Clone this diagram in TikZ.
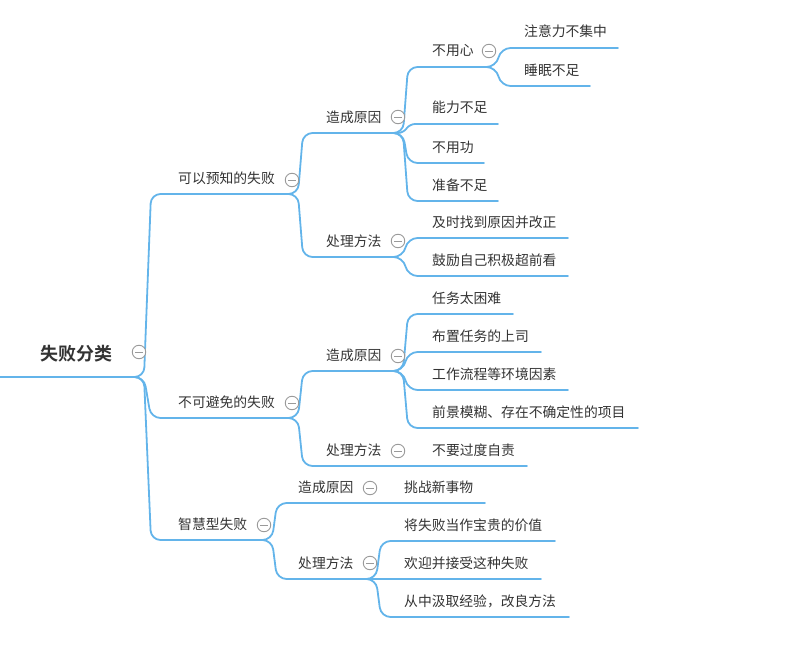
\documentclass[tikz,border=0pt]{standalone}
\usepackage{fontspec}
\setmainfont{Noto Sans CJK SC}
\newfontfamily\cjkbold{Noto Sans CJK SC Bold}
\usetikzlibrary{calc}
\definecolor{lineblue}{HTML}{63B4EA}
\definecolor{textgray}{HTML}{333333}
\definecolor{foldgray}{HTML}{9A9A9A}
\tikzset{
  branch/.style={draw=lineblue, line width=1.8pt, rounded corners=9.5pt, line cap=round},
  lbl/.style={anchor=base west, inner sep=0pt, text=textgray, font=\fontsize{13.8}{16}\selectfont},
  rootlbl/.style={inner sep=0pt, text=textgray, font=\cjkbold\fontsize{18}{20}\selectfont},
  fold/.style={circle, draw=foldgray, fill=white, line width=0.9pt, minimum size=13.5pt, inner sep=0pt},
  foldbar/.style={draw=foldgray, line width=0.9pt}
}
% [#1] extra style, #2 parent, #3 name, #4 knee x, #5 line y, #6 end x, #7 text x, #8 text
\newcommand{\mmchild}[8][]{%
  \coordinate (#3-s) at (#4,#5);
  \coordinate (#3) at (#6,#5);
  \node[lbl] (#3-t) at (#7,#5-11) {#8};
  \draw[branch,#1] (#2) -- ($(#2)+(10,0)$) -- (#3-s) -- (#3);
}
% #1 name, #2 x, #3 y
\newcommand{\mmfold}[3]{%
  \node[fold] (#1) at (#2,#3) {};
  \draw[foldbar] ($(#1)+(-3.8,0)$) -- ($(#1)+(3.8,0)$);
}
\begin{document}
\begin{tikzpicture}[x=1pt, y=-1pt]
\useasboundingbox (0,0) rectangle (790,669);
% root
\node[rootlbl] (root-t) at (76,354) {失败分类};
\coordinate (root-s) at (0,377);
\coordinate (root) at (134,377);
\draw[branch] (root-s) -- (root);
% level 1
\mmchild{root}{A}{151}{194}{288}{178}{可以预知的失败}
\mmchild{root}{B}{151}{418}{288}{178}{不可避免的失败}
\mmchild{root}{C}{151}{540}{262}{178}{智慧型失败}
% A
\mmchild{A}{A1}{303}{133}{393}{326}{造成原因}
\mmchild{A}{A2}{303}{257}{393}{326}{处理方法}
\mmchild{A1}{A11}{408}{67}{486}{432}{不用心}
\mmchild[rounded corners=5pt]{A1}{A12}{410}{124}{498}{432}{能力不足}
\mmchild{A1}{A13}{408}{163}{484}{432}{不用功}
\mmchild{A1}{A14}{408}{201}{498}{432}{准备不足}
\mmchild{A11}{A111}{501}{48}{618}{524}{注意力不集中}
\mmchild{A11}{A112}{501}{86}{590}{524}{睡眠不足}
\mmchild{A2}{A21}{408}{238}{568}{432}{及时找到原因并改正}
\mmchild{A2}{A22}{408}{276}{568}{432}{鼓励自己积极超前看}
% B
\mmchild{B}{B1}{303}{371}{393}{326}{造成原因}
\mmchild{B}{B2}{303}{466}{393}{326}{处理方法}
\mmchild{B1}{B11}{408}{314}{513}{432}{任务太困难}
\mmchild{B1}{B12}{408}{352}{541}{432}{布置任务的上司}
\mmchild{B1}{B13}{408}{390}{568}{432}{工作流程等环境因素}
\mmchild{B1}{B14}{408}{428}{638}{432}{前景模糊、存在不确定性的项目}
\mmchild{B2}{B21}{408}{466}{527}{432}{不要过度自责}
% C
\mmchild{C}{C1}{277}{503}{366}{298}{造成原因}
\mmchild{C}{C2}{277}{579}{366}{298}{处理方法}
\mmchild{C1}{C11}{381}{503}{485}{404}{挑战新事物}
\mmchild{C2}{C21}{381}{541}{555}{404}{将失败当作宝贵的价值}
\mmchild{C2}{C22}{381}{579}{541}{404}{欢迎并接受这种失败}
\mmchild{C2}{C23}{381}{617}{569}{404}{从中汲取经验，改良方法}
% fold markers
\mmfold{f-root}{139}{352}
\mmfold{f-A}{292}{180}
\mmfold{f-B}{292}{403}
\mmfold{f-C}{264}{525}
\mmfold{f-A1}{398}{117}
\mmfold{f-A2}{398}{241}
\mmfold{f-A11}{489}{51}
\mmfold{f-B1}{398}{356}
\mmfold{f-B2}{398}{451}
\mmfold{f-C1}{370}{488}
\mmfold{f-C2}{370}{563}
\end{tikzpicture}
\end{document}
